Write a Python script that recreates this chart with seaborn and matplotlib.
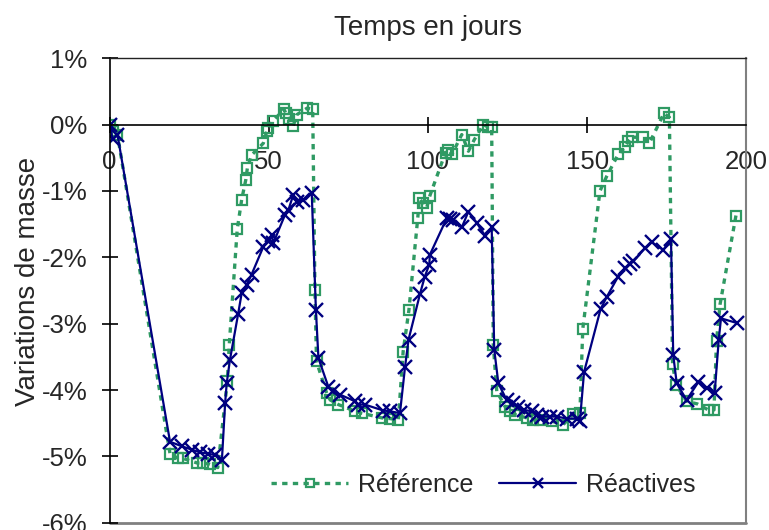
import matplotlib
matplotlib.use("Agg")
import matplotlib.pyplot as plt
import seaborn as sns
import pandas as pd
from matplotlib.ticker import FuncFormatter, MultipleLocator

# ---- data (days, mass variation in %) ----
ref_days = [0, 1, 2.5, 19, 21.5, 23, 27.5, 29.5, 31.5, 34,
            37, 37.6, 40.1, 41.5, 42.8, 43.3, 44.6, 48.3, 49.4, 49.9,
            51.2, 54.8, 55.4, 56.5, 57.7, 58.8, 62.1, 63.8, 64.5, 65.0,
            68.2, 69.3, 71.9, 77.1, 79.2, 85.5, 88, 90.7, 92.2, 94.0,
            96.8, 97.3, 98.3, 99.6, 100.6, 105.5, 106.4, 107.5, 110.6, 112.7,
            114.5, 117.4, 119, 120, 120.5, 121.6, 124.2, 125.7, 127.3, 131,
            133.1, 135.2, 138.8, 142.5, 145.6, 147.7, 148.6, 154, 156.1, 159.7,
            161.9, 162.9, 164, 167.6, 169.5, 174.1, 175.8, 176.8, 177.9, 181.2,
            184.6, 188, 189.8, 190.6, 191.7, 196.7]
ref_vals = [0.0, -0.1, -0.15, -4.96, -5.03, -5.03, -5.1, -5.1, -5.12, -5.17,
            -3.87, -3.32, -1.58, -1.13, -0.83, -0.65, -0.46, -0.28, -0.1, -0.05,
            0.05, 0.23, 0.17, 0.08, -0.02, 0.15, 0.25, 0.23, -2.49, -3.57,
            -4.05, -4.15, -4.22, -4.32, -4.35, -4.42, -4.43, -4.45, -3.42, -2.8,
            -1.4, -1.11, -1.18, -1.25, -1.07, -0.42, -0.38, -0.45, -0.15, -0.4,
            -0.23, 0.0, -0.04, -0.04, -3.32, -4.02, -4.25, -4.32, -4.37, -4.42,
            -4.45, -4.45, -4.47, -4.52, -4.36, -4.35, -3.08, -1.0, -0.78, -0.45,
            -0.34, -0.25, -0.19, -0.19, -0.28, 0.17, 0.11, -3.61, -3.92, -4.17,
            -4.21, -4.3, -4.3, -3.26, -2.71, -1.37]

rea_days = [0, 1, 2.5, 19, 22.8, 25.9, 28.4, 31, 33, 35.3,
            36.3, 36.8, 37.8, 40.4, 41.5, 43.1, 44.6, 48.3, 49.9, 51,
            51.4, 55.1, 56.2, 57.7, 58.8, 60.9, 63.5, 64.8, 65.6, 68.7,
            70.3, 72.4, 77.1, 78.1, 80.2, 86, 88.1, 91.2, 92.8, 93.9,
            97.5, 99, 100.4, 100.6, 105.9, 107, 108, 110.6, 112.7, 115.3,
            118, 120, 120.8, 122.1, 124.7, 126.8, 128.4, 130, 132.6, 134.1,
            135.7, 138.4, 140.4, 143.5, 146.7, 147.7, 149, 154.2, 156.1, 159.7,
            161.9, 163.4, 164.5, 168.2, 170.2, 173.9, 176.3, 177, 178.1, 181.2,
            184.9, 187.5, 190, 191.3, 192, 197]
rea_vals = [0.0, -0.22, -0.15, -4.78, -4.85, -4.9, -4.94, -4.96, -4.98, -5.05,
            -4.2, -3.9, -3.55, -2.85, -2.54, -2.41, -2.26, -1.84, -1.76, -1.66,
            -1.79, -1.36, -1.28, -1.06, -1.16, -1.13, -1.03, -2.79, -3.52, -3.95,
            -4.02, -4.07, -4.17, -4.22, -4.22, -4.31, -4.32, -4.35, -3.65, -3.24,
            -2.55, -2.29, -2.11, -1.96, -1.41, -1.42, -1.43, -1.55, -1.31, -1.48,
            -1.68, -1.55, -3.39, -3.9, -4.15, -4.2, -4.25, -4.3, -4.32, -4.37,
            -4.4, -4.4, -4.4, -4.43, -4.43, -4.47, -3.73, -2.78, -2.6, -2.29,
            -2.16, -2.1, -2.06, -1.86, -1.77, -1.89, -1.72, -3.47, -3.9, -4.15,
            -3.88, -3.97, -4.05, -3.24, -2.92, -2.99]

x_ticks = [0, 50, 100, 150, 200]
series_names = ["Référence", "Réactives"]
title_text = "Temps en jours"
ylabel_text = "Variations de masse"

GREEN = "#2f9a63"
NAVY = "#000080"

sns.set_theme(style="white")
plt.rcParams['font.family'] = ['Liberation Sans', 'DejaVu Sans']
plt.rcParams['font.size'] = 18

fig = plt.figure(figsize=(7.69, 5.30), dpi=100)
ax = fig.add_axes([0.1424, 0.0138, 0.8283, 0.8762])

ref_df = pd.DataFrame({"x": ref_days, "y": ref_vals})
rea_df = pd.DataFrame({"x": rea_days, "y": rea_vals})

sns.lineplot(data=ref_df, x="x", y="y", ax=ax, estimator=None, sort=False,
             color=GREEN, linestyle=(0, (1.6, 1.6)), linewidth=2.4,
             marker="s", markersize=7.5, markerfacecolor="none",
             markeredgecolor=GREEN, markeredgewidth=1.6, label=series_names[0])
sns.lineplot(data=rea_df, x="x", y="y", ax=ax, estimator=None, sort=False,
             color=NAVY, linestyle="-", linewidth=1.6,
             marker="x", markersize=10.5, markeredgewidth=1.7,
             markeredgecolor=NAVY, markerfacecolor=NAVY,
             label=series_names[1])

ax.set_xlim(0, 200)
ax.set_ylim(-6, 1)
ax.xaxis.set_major_locator(plt.FixedLocator(x_ticks))
ax.yaxis.set_major_locator(MultipleLocator(1))
ax.yaxis.set_major_formatter(FuncFormatter(lambda v, p: f"{int(round(v))}%"))

# spines
ax.spines['bottom'].set_position(('data', 0))
ax.spines['bottom'].set_color('black')
ax.spines['bottom'].set_linewidth(1.2)
ax.spines['left'].set_color('black')
ax.spines['left'].set_linewidth(1.2)
ax.spines['top'].set_color('#222222')
ax.spines['top'].set_linewidth(1.0)
ax.spines['right'].set_color('#808080')
ax.spines['right'].set_linewidth(1.5)
ax.axhline(-6, color='#808080', linewidth=2.0, clip_on=False, zorder=0)

ax.tick_params(axis='x', direction='inout', length=11, width=1.2, color='black',
               pad=13, labelsize=18.5, bottom=True, top=False)
ax.tick_params(axis='y', direction='inout', length=12, width=1.2, color='black',
               pad=10, labelsize=18.5, left=True, right=False)

ax.set_xlabel("")
ax.set_ylabel(ylabel_text, fontsize=20)
ax.yaxis.set_label_coords(-0.108, 0.52)
ax.set_title(title_text, fontsize=20, pad=17)

leg = ax.legend(loc='center', bbox_to_anchor=(0.587, 0.081), ncol=2, frameon=False,
                handlelength=3.1, columnspacing=1.0, handletextpad=0.4,
                fontsize=18, markerscale=0.7)

fig.savefig("out.png", dpi=100)
